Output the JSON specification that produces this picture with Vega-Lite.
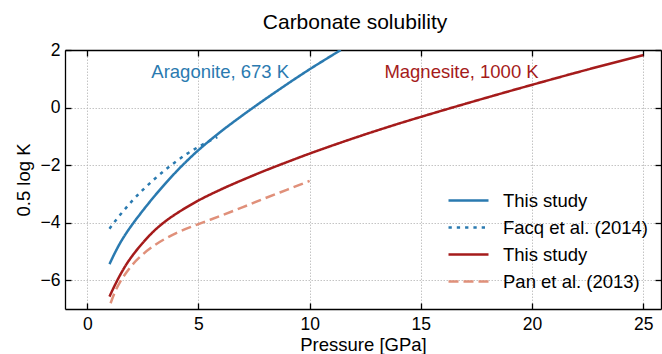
{
  "$schema": "https://vega.github.io/schema/vega-lite/v6.json",
  "width": 596,
  "height": 259,
  "autosize": {"type": "none"},
  "padding": {"left": 65, "top": 50, "right": 1, "bottom": 45},
  "title": {"text": "Carbonate solubility", "fontSize": 21, "fontWeight": "normal", "color": "black", "frame": "group", "anchor": "middle", "baseline": "alphabetic", "offset": 19, "dx": -8, "dy": 28},
  "config": {
    "font": "Liberation Sans",
    "view": {"stroke": null},
    "axis": {
      "domainColor": "black", "domainWidth": 1.3,
      "tickColor": "black", "tickWidth": 1.3, "tickSize": -6,
      "gridColor": "#b5b5b5", "gridDash": [1.5, 1.5], "gridWidth": 0.8,
      "labelColor": "black", "labelFontSize": 17.5, "labelFlush": false,
      "titleColor": "black", "titleFontSize": 18.5, "titleFontWeight": "normal"
    }
  },
  "layer": [
    {
      "data": {"values": [
        {"series": "a_this", "p": 1, "k": -5.44},
        {"series": "a_this", "p": 1.25, "k": -5.04},
        {"series": "a_this", "p": 1.5, "k": -4.68},
        {"series": "a_this", "p": 1.75, "k": -4.37},
        {"series": "a_this", "p": 2, "k": -4.09},
        {"series": "a_this", "p": 2.5, "k": -3.58},
        {"series": "a_this", "p": 3, "k": -3.1},
        {"series": "a_this", "p": 3.5, "k": -2.65},
        {"series": "a_this", "p": 4, "k": -2.23},
        {"series": "a_this", "p": 4.5, "k": -1.84},
        {"series": "a_this", "p": 5, "k": -1.48},
        {"series": "a_this", "p": 5.5, "k": -1.15},
        {"series": "a_this", "p": 6, "k": -0.84},
        {"series": "a_this", "p": 7, "k": -0.26},
        {"series": "a_this", "p": 8, "k": 0.29},
        {"series": "a_this", "p": 9, "k": 0.82},
        {"series": "a_this", "p": 10, "k": 1.33},
        {"series": "a_this", "p": 11, "k": 1.81},
        {"series": "a_this", "p": 11.4, "k": 2.0},
        {"series": "a_facq", "p": 1, "k": -4.21},
        {"series": "a_facq", "p": 1.25, "k": -3.95},
        {"series": "a_facq", "p": 1.5, "k": -3.71},
        {"series": "a_facq", "p": 2, "k": -3.26},
        {"series": "a_facq", "p": 2.5, "k": -2.86},
        {"series": "a_facq", "p": 3, "k": -2.5},
        {"series": "a_facq", "p": 3.5, "k": -2.17},
        {"series": "a_facq", "p": 4, "k": -1.87},
        {"series": "a_facq", "p": 4.5, "k": -1.6},
        {"series": "a_facq", "p": 5, "k": -1.37},
        {"series": "a_facq", "p": 5.5, "k": -1.16},
        {"series": "a_facq", "p": 5.85, "k": -1.03},
        {"series": "m_this", "p": 1, "k": -6.57},
        {"series": "m_this", "p": 1.25, "k": -6.16},
        {"series": "m_this", "p": 1.5, "k": -5.79},
        {"series": "m_this", "p": 1.75, "k": -5.46},
        {"series": "m_this", "p": 2, "k": -5.18},
        {"series": "m_this", "p": 2.5, "k": -4.7},
        {"series": "m_this", "p": 3, "k": -4.29},
        {"series": "m_this", "p": 3.5, "k": -3.96},
        {"series": "m_this", "p": 4, "k": -3.69},
        {"series": "m_this", "p": 4.5, "k": -3.45},
        {"series": "m_this", "p": 5, "k": -3.23},
        {"series": "m_this", "p": 6, "k": -2.85},
        {"series": "m_this", "p": 7, "k": -2.51},
        {"series": "m_this", "p": 8, "k": -2.19},
        {"series": "m_this", "p": 9, "k": -1.89},
        {"series": "m_this", "p": 10, "k": -1.6},
        {"series": "m_this", "p": 11, "k": -1.325},
        {"series": "m_this", "p": 12, "k": -1.06},
        {"series": "m_this", "p": 13, "k": -0.805},
        {"series": "m_this", "p": 14, "k": -0.56},
        {"series": "m_this", "p": 15, "k": -0.325},
        {"series": "m_this", "p": 17, "k": 0.13},
        {"series": "m_this", "p": 20, "k": 0.79},
        {"series": "m_this", "p": 22.5, "k": 1.32},
        {"series": "m_this", "p": 25, "k": 1.82},
        {"series": "m_pan", "p": 1.05, "k": -6.8},
        {"series": "m_pan", "p": 1.25, "k": -6.4},
        {"series": "m_pan", "p": 1.5, "k": -6.03},
        {"series": "m_pan", "p": 1.75, "k": -5.74},
        {"series": "m_pan", "p": 2, "k": -5.49},
        {"series": "m_pan", "p": 2.5, "k": -5.1},
        {"series": "m_pan", "p": 3, "k": -4.8},
        {"series": "m_pan", "p": 3.5, "k": -4.56},
        {"series": "m_pan", "p": 4, "k": -4.36},
        {"series": "m_pan", "p": 5, "k": -4.05},
        {"series": "m_pan", "p": 6, "k": -3.76},
        {"series": "m_pan", "p": 7, "k": -3.46},
        {"series": "m_pan", "p": 8, "k": -3.15},
        {"series": "m_pan", "p": 9, "k": -2.85},
        {"series": "m_pan", "p": 10, "k": -2.55}
      ]},
      "mark": {"type": "line", "strokeWidth": 2.5, "interpolate": "monotone", "clip": true},
      "encoding": {
        "x": {"field": "p", "type": "quantitative",
              "scale": {"domain": [-1, 25.8], "nice": false, "zero": false},
              "axis": {"orient": "bottom", "title": "Pressure [GPa]", "values": [0, 5, 10, 15, 20, 25], "labelPadding": 12, "titlePadding": 3}},
        "y": {"field": "k", "type": "quantitative",
              "scale": {"domain": [-7, 2], "nice": false, "zero": false},
              "axis": {"orient": "left", "title": "0.5 log K", "values": [-6, -4, -2, 0, 2], "labelPadding": 11, "titlePadding": 7}},
        "color": {"field": "series", "type": "nominal",
                  "scale": {"domain": ["a_this", "a_facq", "m_this", "m_pan"], "range": ["#2a7ab0", "#2a7ab0", "#a51b1b", "#e0907a"]},
                  "legend": {"title": null, "orient": "none", "legendX": 382, "legendY": 137, "symbolType": "stroke", "symbolSize": 1600, "symbolStrokeWidth": 2.5, "clipHeight": 27, "rowPadding": 0, "labelOffset": 13, "labelFontSize": 18.5, "labelColor": "black", "labelLimit": 300,
                             "labelExpr": "datum.label == 'a_facq' ? 'Facq et al. (2014)' : datum.label == 'm_pan' ? 'Pan et al. (2013)' : 'This study'"}},
        "strokeDash": {"field": "series", "type": "nominal",
                       "scale": {"domain": ["a_this", "a_facq", "m_this", "m_pan"], "range": [[1, 0], [3.3, 5], [1, 0], [10, 5]]},
                       "legend": {"title": null, "orient": "none", "legendX": 382, "legendY": 137, "symbolType": "stroke", "symbolSize": 1600, "symbolStrokeWidth": 2.5, "clipHeight": 27, "rowPadding": 0, "labelOffset": 13, "labelFontSize": 18.5, "labelColor": "black", "labelLimit": 300,
                             "labelExpr": "datum.label == 'a_facq' ? 'Facq et al. (2014)' : datum.label == 'm_pan' ? 'Pan et al. (2013)' : 'This study'"}}
      }
    },
    {
      "data": {"values": [{"p": 5.98, "k": 1.22, "label": "Aragonite, 673 K"}]},
      "mark": {"type": "text", "fontSize": 18.5, "color": "#2a7ab0", "align": "center", "baseline": "middle"},
      "encoding": {
        "x": {"field": "p", "type": "quantitative",
              "axis": {"orient": "top", "title": null, "labels": false, "grid": false, "minExtent": 0, "maxExtent": 0, "values": [0, 5, 10, 15, 20, 25]}},
        "y": {"field": "k", "type": "quantitative",
              "axis": {"orient": "right", "title": null, "labels": false, "grid": false, "minExtent": 0, "maxExtent": 0, "values": [-6, -4, -2, 0, 2]}},
        "text": {"field": "label"}
      }
    },
    {
      "data": {"values": [{"p": 16.83, "k": 1.22, "label": "Magnesite, 1000 K"}]},
      "mark": {"type": "text", "fontSize": 18.5, "color": "#a51b1b", "align": "center", "baseline": "middle"},
      "encoding": {
        "x": {"field": "p", "type": "quantitative", "axis": null},
        "y": {"field": "k", "type": "quantitative", "axis": null},
        "text": {"field": "label"}
      }
    }
  ],
  "resolve": {"axis": {"x": "independent", "y": "independent"}}
}
